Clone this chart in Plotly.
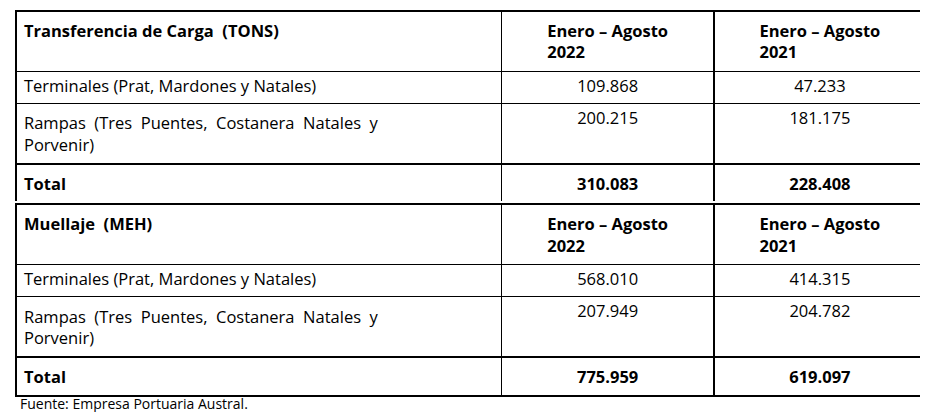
import plotly.graph_objects as go

# column headers
col_2022 = "<b>Enero – Agosto<br>2022</b>"
col_2021 = "<b>Enero – Agosto<br>2021</b>"

rows = ["Terminales (Prat, Mardones y Natales)",
        "Rampas  (Tres  Puentes,  Costanera  Natales  y<br>Porvenir)",
        "<b>Total</b>"]

carga_2022 = ["109.868", "200.215", "<b>310.083</b>"]
carga_2021 = ["47.233", "181.175", "<b>228.408</b>"]

muellaje_2022 = ["568.010", "207.949", "<b>775.959</b>"]
muellaje_2021 = ["414.315", "204.782", "<b>619.097</b>"]

font = dict(family="Open Sans", size=16.5, color="black")


def make_table(title, v22, v21, ytop, ybot):
    return go.Table(
        domain=dict(x=[8 / 928, 918 / 928], y=[ybot, ytop]),
        columnwidth=[485, 212, 212],
        header=dict(values=["<b>" + title + "</b>", col_2022, col_2021],
                    align=["left", "center", "center"],
                    line_color="black", line_width=1.5, fill_color="white",
                    font=font, height=30),
        cells=dict(values=[rows, v22, v21],
                   align=["left", "center", "center"],
                   line_color="black", line_width=1.5, fill_color="white",
                   font=font, height=32),
    )


fig = go.Figure()
fig.add_trace(make_table("Transferencia de Carga  (TONS)", carga_2022, carga_2021, 0.993, 0.53))
fig.add_trace(make_table("Muellaje  (MEH)", muellaje_2022, muellaje_2021, 0.524, 0.02))

fig.add_annotation(text="Fuente: Empresa Portuaria Austral.", x=10 / 928, y=17 / 412,
                   xref="paper", yref="paper", xanchor="left", yanchor="middle",
                   showarrow=False, font=dict(family="Open Sans", size=14, color="black"))

fig.update_layout(width=928, height=412, margin=dict(l=0, r=0, t=0, b=0),
                  paper_bgcolor="white", plot_bgcolor="white")

fig.write_html("out.html")
